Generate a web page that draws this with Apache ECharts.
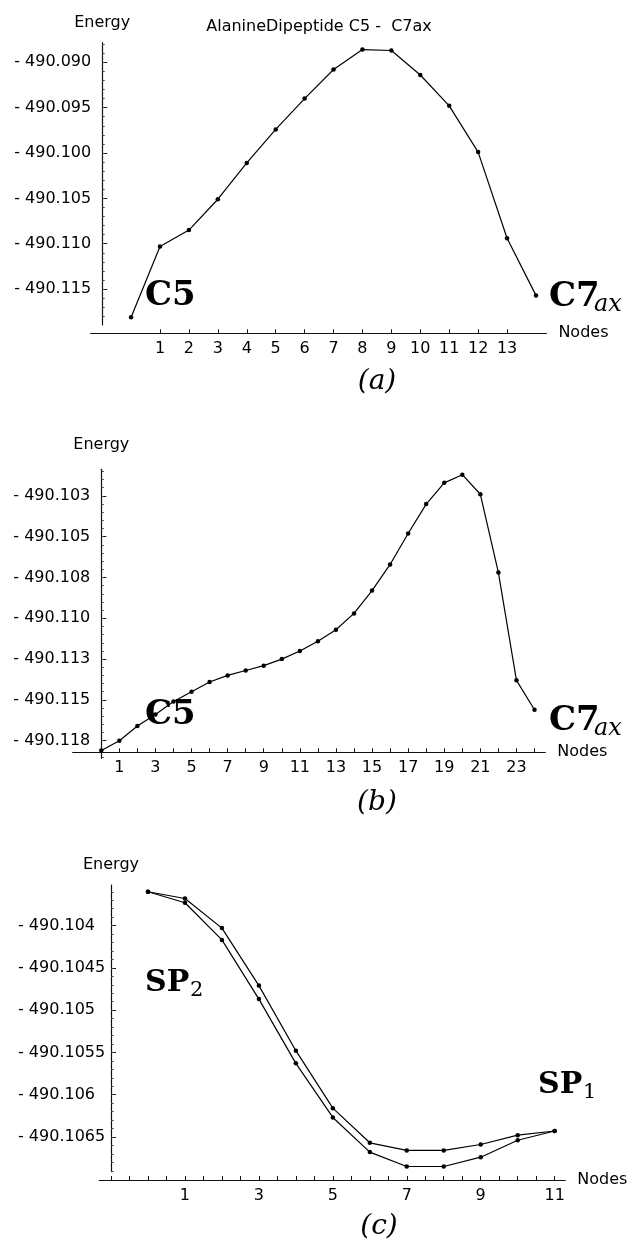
<!DOCTYPE html>
<html><head><meta charset="utf-8">
<script src="https://cdn.jsdelivr.net/npm/echarts@6/dist/echarts.min.js"></script>
<style>html,body{margin:0;padding:0;background:#fff}#c{width:633px;height:1247px}</style>
</head><body><div id="c"></div>
<script>
// ---------- data ----------
const nodesA = [0,1,2,3,4,5,6,7,8,9,10,11,12,13,14];
const energyA = [-490.1181,-490.1103,-490.1085,-490.1051,-490.1011,-490.0974,-490.0940,-490.0908,-490.0886,-490.0887,-490.0914,-490.0948,-490.0999,-490.1094,-490.1157];

const nodesB = [0,1,2,3,4,5,6,7,8,9,10,11,12,13,14,15,16,17,18,19,20,21,22,23,24];
const energyB = [-490.1181,-490.1175,-490.1166,-490.1159,-490.1151,-490.1145,-490.1139,-490.1135,-490.1132,-490.1129,-490.1125,-490.1120,-490.1114,-490.1107,-490.1097,-490.1083,-490.1067,-490.1048,-490.1030,-490.1017,-490.1012,-490.1024,-490.1072,-490.1138,-490.1156];

const nodesC = [0,1,2,3,4,5,6,7,8,9,10,11];
const energyC1 = [-490.10360,-490.10368,-490.10403,-490.10471,-490.10548,-490.10616,-490.10657,-490.10666,-490.10666,-490.10659,-490.10648,-490.10643];
const energyC2 = [-490.10360,-490.10373,-490.10417,-490.10487,-490.10563,-490.10627,-490.10668,-490.10685,-490.10685,-490.10674,-490.10654,-490.10643];

// tick values and labels
const yTicksA = [-490.090,-490.095,-490.100,-490.105,-490.110,-490.115];
const yLabelsA = ['- 490.090','- 490.095','- 490.100','- 490.105','- 490.110','- 490.115'];
const xTicksA = [1,2,3,4,5,6,7,8,9,10,11,12,13];

const yTicksB = [-490.1025,-490.1050,-490.1075,-490.1100,-490.1125,-490.1150,-490.1175];
const yLabelsB = ['- 490.103','- 490.105','- 490.108','- 490.110','- 490.113','- 490.115','- 490.118'];
const xTicksB = [1,3,5,7,9,11,13,15,17,19,21,23];

const yTicksC = [-490.1040,-490.1045,-490.1050,-490.1055,-490.1060,-490.1065];
const yLabelsC = ['- 490.104','- 490.1045','- 490.105','- 490.1055','- 490.106','- 490.1065'];
const xTicksC = [1,3,5,7,9,11];

const titleText = 'AlanineDipeptide C5 -  C7ax';

// ---------- helpers ----------
function range(a, b, step) { const r = []; const n = Math.round((b - a) / step); for (let i = 0; i <= n; i++) r.push(+(a + i * step).toFixed(6)); return r; }
function labelFor(ticks, labels) { return v => { let bi = 0, bd = Infinity; ticks.forEach((t, i) => { const d = Math.abs(t - v); if (d < bd) { bd = d; bi = i; } }); return labels[bi]; }; }

const FONT = 'DejaVu Sans';
const panels = [
  { main: {left: 90.6, top: 42.7, width: 455.8, height: 290.6}, x: [-1.4, 14.36], y: [-490.11988, -490.08784],
    ygrid: {left: 102.2, top: 42.7, width: 10, height: 282.3}, yy: [-490.11896, -490.08784],
    yTicks: yTicksA, yLabels: yLabelsA, yMinor: range(-490.118, -490.088, 0.001),
    xTicks: xTicksA, xTickMarks: xTicksA, nameGapE: 12, labelAlign: 'right', labelMargin: 11 },
  { main: {left: 72.7, top: 469.3, width: 472.6, height: 283}, x: [-1.584, 24.598], y: [-490.11821, -490.10087],
    ygrid: {left: 101.3, top: 469.3, width: 10, height: 289}, yy: [-490.11858, -490.10087],
    yTicks: yTicksB, yLabels: yLabelsB, yMinor: range(-490.1185, -490.1010, 0.0005),
    xTicks: xTicksB, xTickMarks: range(0, 24, 1), nameGapE: 16, labelAlign: 'right', labelMargin: 11 },
  { main: {left: 99.3, top: 885, width: 466, height: 295}, x: [-1.317, 11.288], y: [-490.10701, -490.10352],
    ygrid: {left: 111.0, top: 885, width: 10, height: 286.7}, yy: [-490.10691, -490.10352],
    yTicks: yTicksC, yLabels: yLabelsC, yMinor: range(-490.1069, -490.1036, 0.0001),
    xTicks: xTicksC, xTickMarks: range(-1, 11, 0.5), nameGapE: 12, labelAlign: 'left', labelMargin: 93 }
];

const grid = [], xAxis = [], yAxis = [], series = [];
const seriesData = [
  [[nodesA, energyA]],
  [[nodesB, energyB]],
  [[nodesC, energyC1], [nodesC, energyC2]]
];
panels.forEach((p, i) => {
  const gMain = grid.length; grid.push(p.main);
  const gY = grid.length; grid.push(p.ygrid);
  const xMain = xAxis.length;
  xAxis.push({ type: 'value', gridIndex: gMain, min: p.x[0], max: p.x[1],
    name: 'Nodes', nameLocation: 'end', nameGap: 12,
    nameTextStyle: { fontFamily: FONT, fontSize: 16, color: '#000', verticalAlign: 'middle' },
    axisLine: { show: true, onZero: false, lineStyle: { color: '#111', width: 1.2 } },
    axisTick: { show: true, inside: true, length: 4, customValues: p.xTickMarks, lineStyle: { color: '#111' } },
    axisLabel: { show: true, customValues: p.xTicks, margin: 8, fontFamily: FONT, fontSize: 16, color: '#000' },
    splitLine: { show: false } });
  const xY = xAxis.length;
  xAxis.push({ type: 'value', gridIndex: gY, min: 0, max: 1, show: false });
  const yMain = yAxis.length;
  yAxis.push({ type: 'value', gridIndex: gMain, min: p.y[0], max: p.y[1], show: false, splitLine: { show: false } });
  yAxis.push({ type: 'value', gridIndex: gY, min: p.yy[0], max: p.yy[1], position: 'left',
    name: 'Energy', nameLocation: 'end', nameGap: p.nameGapE,
    nameTextStyle: { fontFamily: FONT, fontSize: 16, color: '#000', align: 'center' },
    axisLine: { show: true, lineStyle: { color: '#111', width: 1.2 } },
    axisTick: { show: true, inside: true, length: 5, customValues: p.yTicks, lineStyle: { color: '#111' } },
    axisLabel: { show: true, customValues: p.yTicks, formatter: labelFor(p.yTicks, p.yLabels),
      align: p.labelAlign, margin: p.labelMargin, fontFamily: FONT, fontSize: 16, color: '#000' },
    splitLine: { show: false } });
  yAxis.push({ type: 'value', gridIndex: gY, min: p.yy[0], max: p.yy[1], position: 'left',
    axisLine: { show: false },
    axisTick: { show: true, inside: true, length: 2.5, customValues: p.yMinor, lineStyle: { color: '#444' } },
    axisLabel: { show: false }, splitLine: { show: false } });
  seriesData[i].forEach(([xs, ys]) => {
    series.push({ type: 'line', xAxisIndex: xMain, yAxisIndex: yMain,
      data: xs.map((x, k) => [x, ys[k]]),
      symbol: 'circle', symbolSize: 4.5, showSymbol: true,
      lineStyle: { color: '#000', width: 1.2 }, itemStyle: { color: '#000' },
      silent: true, animation: false });
  });
});

function txt(x, y, text, font, align) {
  return { type: 'text', x: x, y: y, silent: true,
    style: { text: text, font: font, fill: '#000', textAlign: align || 'left', textVerticalAlign: 'middle' } };
}
const BOLD = 'bold 34px "DejaVu Serif"';
const BOLDSP = 'bold 30px "DejaVu Serif"';
const graphic = [
  txt(319, 27, titleText, '16px "DejaVu Sans"', 'center'),
  // panel a labels
  txt(145, 306 - 10, 'C5', BOLD),
  txt(549, 307 - 10, 'C7', BOLD),
  txt(594, 312 - 7, 'ax', 'italic 24px "DejaVu Serif"'),
  txt(377, 382, '(a)', 'italic 28px "DejaVu Serif"', 'center'),
  // panel b labels
  txt(145, 725 - 10, 'C5', BOLD),
  txt(549, 731 - 10, 'C7', BOLD),
  txt(594, 736 - 7, 'ax', 'italic 24px "DejaVu Serif"'),
  txt(377, 803, '(b)', 'italic 28px "DejaVu Serif"', 'center'),
  // panel c labels
  txt(145, 992 - 9, 'SP', BOLDSP),
  txt(190, 997 - 6, '2', '21px "DejaVu Serif"'),
  txt(538, 1094 - 9, 'SP', BOLDSP),
  txt(583, 1099 - 6, '1', '21px "DejaVu Serif"'),
  txt(379, 1227, '(c)', 'italic 28px "DejaVu Serif"', 'center')
];

const chart = echarts.init(document.getElementById('c'), null, { renderer: 'canvas' });
chart.setOption({ animation: false, backgroundColor: '#fff', grid, xAxis, yAxis, series, graphic });
</script></body></html>
